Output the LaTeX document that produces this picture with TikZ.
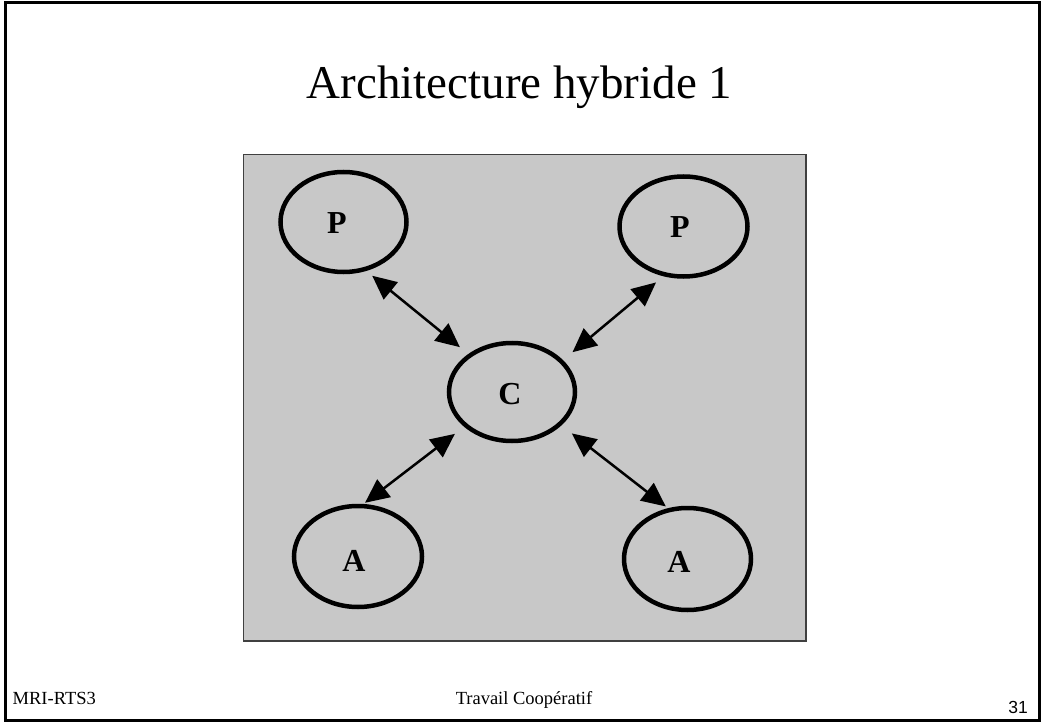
\documentclass[tikz,border=0pt]{standalone}
\usepackage{fontspec}
\setmainfont{Liberation Serif}
\newfontfamily\arialfont{Liberation Sans}
\usetikzlibrary{shapes.geometric,arrows.meta}
\definecolor{boxgray}{RGB}{200,200,200}
\begin{document}
\begin{tikzpicture}[x=1pt,y=-1pt,
  entity/.style={ellipse,draw=black,line width=4.5pt,inner sep=0pt},
  lbl/.style={font=\fontsize{32}{36}\selectfont\bfseries,inner sep=0pt},
  link/.style={line width=2.5pt,{Triangle[length=24pt,width=22pt]}-{Triangle[length=24pt,width=22pt]}},
  foot/.style={font=\fontsize{18.5}{21}\selectfont,inner sep=0pt}]
\useasboundingbox (0,0) rectangle (1042,722);
% slide frame
\draw[line width=3pt] (5,3) rectangle (1039,720);
% title
\node[font=\fontsize{47}{56}\selectfont,anchor=base,inner sep=0pt] (title) at (519.5,99) {Architecture hybride 1};
% gray panel
\draw[fill=boxgray,draw=black!75,line width=1.5pt] (243.5,154.5) rectangle (806,641);
% entities
\node[entity,minimum width=126pt,minimum height=100pt,label={[lbl,xshift=-6.5pt,yshift=-1pt]center:P}] (p1) at (343.5,222) {};
\node[entity,minimum width=128pt,minimum height=100pt,label={[lbl,xshift=-3.5pt,yshift=-1pt]center:P}] (p2) at (683.5,226.5) {};
\node[entity,minimum width=126pt,minimum height=98pt,label={[lbl,xshift=-2pt,yshift=-2pt]center:C}] (c) at (512,392) {};
\node[entity,minimum width=128pt,minimum height=101pt,label={[lbl,xshift=-4pt,yshift=-4.5pt]center:A}] (a1) at (358,556.5) {};
\node[entity,minimum width=127pt,minimum height=102pt,label={[lbl,xshift=-8.5pt,yshift=-3pt]center:A}] (a2) at (687.5,559) {};
% connectors
\draw[link,shorten <=7.6pt,shorten >=10.8pt] (p1.-65.5) -- (c.139.1);
\draw[link,shorten <=9.6pt,shorten >=12.3pt] (p2.-112.7) -- (c.32.6);
\draw[link,shorten <=11.6pt,shorten >=1.9pt] (c.-144.7) -- (a1.84.8);
\draw[link,shorten <=13.1pt,shorten >=2.8pt] (c.-34.3) -- (a2.111);
% footer
\node[foot,anchor=base west] (left) at (12.5,704) {MRI-RTS3};
\node[foot,anchor=base] (mid) at (524,704.5) {Travail Coopératif};
\node[font=\fontsize{17.5}{20}\selectfont\arialfont,inner sep=0pt,anchor=base east] (num) at (1028,713) {31};
\end{tikzpicture}
\end{document}
